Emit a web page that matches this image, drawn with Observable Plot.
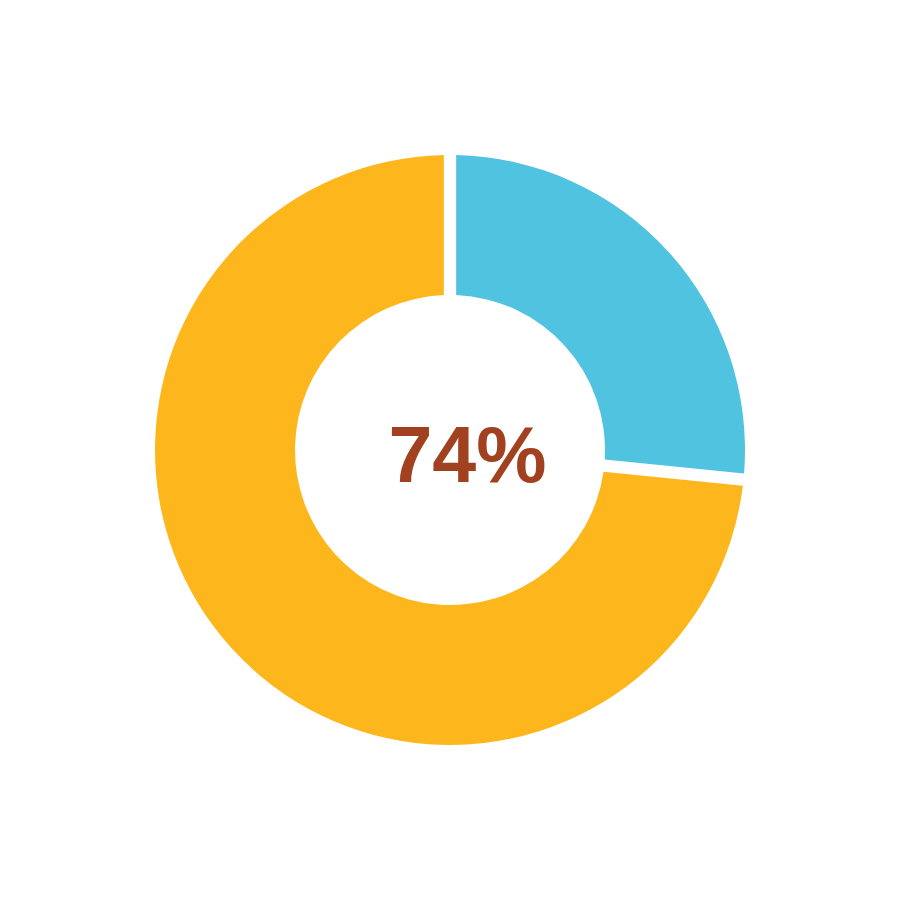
<!DOCTYPE html>
<html><head><meta charset="utf-8">
<script src="https://cdn.jsdelivr.net/npm/d3@7"></script>
<script src="https://cdn.jsdelivr.net/npm/@observablehq/plot@0.6"></script>
<style>html,body{margin:0;padding:0;background:#fff}</style>
</head><body><div id="chart"></div>
<script>
const categories = ["Remaining", "Share"];
const values = [26.6, 73.4];
const colors = ["#4FC3DF", "#FDB71C"];
const centerLabel = "74%";

const data = categories.map((c, i) => ({category: c, value: values[i]}));
const slices = d3.pie().sort(null).value(d => d.value)(data);
const ext = 450 / 295;

function donut(index, scales) {
  const cx = scales.x(0), cy = scales.y(0);
  const r = scales.x(1) - scales.x(0);
  const arc = d3.arc().innerRadius(r * 155 / 295).outerRadius(r).padAngle(0.037);
  const g = d3.create("svg:g").attr("transform", `translate(${cx},${cy})`);
  g.selectAll("path").data(slices).join("path")
    .attr("d", arc)
    .attr("fill", d => colors[categories.indexOf(d.data.category)]);
  return g.node();
}

const chart = Plot.plot({
  width: 900,
  height: 900,
  margin: 0,
  x: {domain: [-ext, ext], axis: null},
  y: {domain: [-ext, ext], axis: null},
  marks: [
    donut,
    Plot.text([centerLabel], {
      x: () => 0, y: () => 0, text: d => d,
      dx: 17, dy: 6,
      fontSize: 79, fontWeight: "bold",
      fontFamily: "Liberation Sans, Arial, sans-serif",
      fill: "#A1411F", textAnchor: "middle"
    })
  ]
});
document.getElementById("chart").append(chart);
</script>
</body></html>
